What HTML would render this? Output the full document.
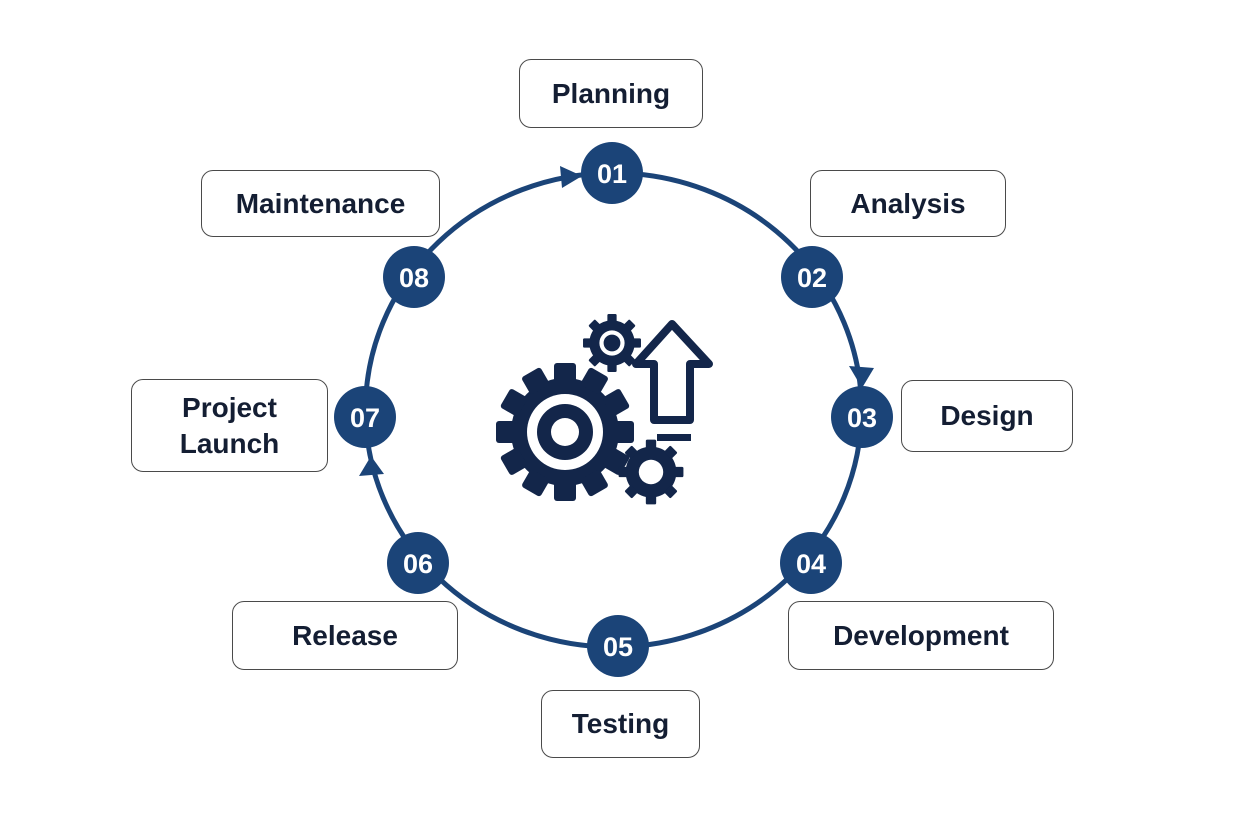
<!DOCTYPE html>
<html><head><meta charset="utf-8"><style>
body{margin:0;background:#fff;width:1248px;height:832px;overflow:hidden;position:relative;font-family:"Liberation Sans",sans-serif}
.b{position:absolute;border:1.5px solid #4a4a4a;border-radius:12px;display:flex;align-items:center;justify-content:center;text-align:center;font-weight:bold;font-size:28px;color:#141e33;box-sizing:border-box;line-height:36px}
</style></head><body>
<svg width="1248" height="832" style="position:absolute;left:0;top:0">
<defs>
<g id="tooth"><rect x="-11" y="-69" width="22" height="20" rx="3"/></g>
</defs>
<ellipse cx="613.5" cy="410" rx="248" ry="237" fill="none" stroke="#1b4478" stroke-width="5"/>
<polygon points="582,176 560,166 562,188" fill="#1b4478"/>
<polygon points="862,388 849,366 874,368" fill="#1b4478"/>
<polygon points="371,456 359,476 384,474" fill="#1b4478"/>
<g fill="#1b4478">
<circle cx="612" cy="173" r="31"/><circle cx="812" cy="277" r="31"/><circle cx="862" cy="417" r="31"/><circle cx="811" cy="563" r="31"/>
<circle cx="618" cy="646" r="31"/><circle cx="418" cy="563" r="31"/><circle cx="365" cy="417" r="31"/><circle cx="414" cy="277" r="31"/>
</g>
<g fill="#fff" font-family="Liberation Sans" font-weight="bold" font-size="27" text-anchor="middle">
<text x="612" y="183">01</text><text x="812" y="287">02</text><text x="862" y="427">03</text><text x="811" y="573">04</text>
<text x="618" y="656">05</text><text x="418" y="573">06</text><text x="365" y="427">07</text><text x="414" y="287">08</text>
</g>
<g fill="#13264a">
<g transform="translate(565,432)">
<circle r="54"/>
<g><use href="#tooth"/><use href="#tooth" transform="rotate(30)"/><use href="#tooth" transform="rotate(60)"/><use href="#tooth" transform="rotate(90)"/><use href="#tooth" transform="rotate(120)"/><use href="#tooth" transform="rotate(150)"/><use href="#tooth" transform="rotate(180)"/><use href="#tooth" transform="rotate(210)"/><use href="#tooth" transform="rotate(240)"/><use href="#tooth" transform="rotate(270)"/><use href="#tooth" transform="rotate(300)"/><use href="#tooth" transform="rotate(330)"/></g>
<circle r="38" fill="#fff"/><circle r="28"/><circle r="14" fill="#fff"/>
</g>
<g transform="translate(612,343) scale(0.42)">
<circle r="54"/>
<use href="#tooth"/><use href="#tooth" transform="rotate(45)"/><use href="#tooth" transform="rotate(90)"/><use href="#tooth" transform="rotate(135)"/><use href="#tooth" transform="rotate(180)"/><use href="#tooth" transform="rotate(225)"/><use href="#tooth" transform="rotate(270)"/><use href="#tooth" transform="rotate(315)"/>
<circle r="30" fill="#fff"/><circle r="20"/>
</g>
<g transform="translate(651,472) scale(0.47)">
<circle r="54"/>
<use href="#tooth"/><use href="#tooth" transform="rotate(45)"/><use href="#tooth" transform="rotate(90)"/><use href="#tooth" transform="rotate(135)"/><use href="#tooth" transform="rotate(180)"/><use href="#tooth" transform="rotate(225)"/><use href="#tooth" transform="rotate(270)"/><use href="#tooth" transform="rotate(315)"/>
<circle r="26" fill="#fff"/>
</g>
<rect x="657" y="434" width="34" height="7"/>
</g>
<polygon points="672,324 709,364 690,364 690,420 654,420 654,364 636,364" fill="none" stroke="#13264a" stroke-width="8" stroke-linejoin="round"/>
</svg>
<div class="b" style="left:519px;top:59px;width:184px;height:69px">Planning</div>
<div class="b" style="left:201px;top:170px;width:239px;height:67px">Maintenance</div>
<div class="b" style="left:810px;top:170px;width:196px;height:67px">Analysis</div>
<div class="b" style="left:901px;top:380px;width:172px;height:72px">Design</div>
<div class="b" style="left:131px;top:379px;width:197px;height:93px">Project<br>Launch</div>
<div class="b" style="left:232px;top:601px;width:226px;height:69px">Release</div>
<div class="b" style="left:788px;top:601px;width:266px;height:69px">Development</div>
<div class="b" style="left:541px;top:690px;width:159px;height:68px">Testing</div>
</body></html>
